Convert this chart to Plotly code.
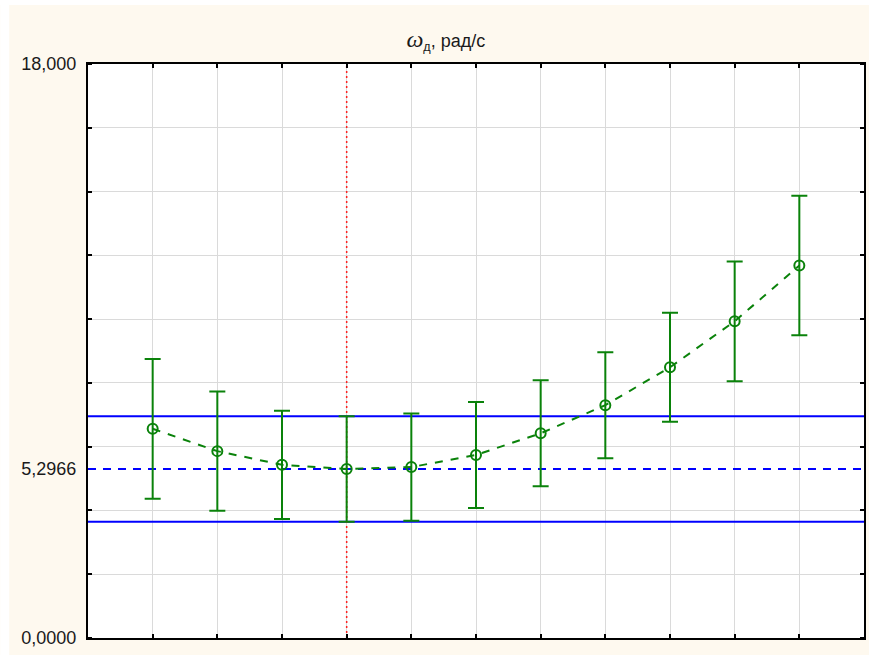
import plotly.graph_objects as go

# Levels of the factor (x positions) and the group means with their half-widths
levels = [1, 2, 3, 4, 5, 6, 7, 8, 9, 10, 11]
means = [6.56, 5.86, 5.43, 5.2966, 5.36, 5.74, 6.42, 7.30, 8.49, 9.93, 11.68]
half_ci = [2.19, 1.87, 1.70, 1.655, 1.68, 1.66, 1.66, 1.66, 1.71, 1.88, 2.19]

# Reference level (optimum) and its confidence band
ref_level = 4
ref_mean = 5.2966
ref_low = 3.6416
ref_high = 6.9516

# Axis labels
y_tick_vals = [0.0, 5.2966, 18.0]
y_tick_text = ["0,0000", "5,2966", "18,000"]
x_range = [0, 12]
y_range = [0, 18]

GREEN = "#0a820a"
BLUE = "#0000ff"
CREAM = "#fef9ef"
FONT = "Liberation Sans, Arial, sans-serif"

fig = go.Figure()

# confidence band of the reference level
for yv in (ref_high, ref_low):
    fig.add_trace(go.Scatter(x=x_range, y=[yv, yv], mode="lines",
                             line=dict(color=BLUE, width=2),
                             hoverinfo="skip", showlegend=False))
fig.add_trace(go.Scatter(x=x_range, y=[ref_mean, ref_mean], mode="lines",
                         line=dict(color=BLUE, width=2, dash="8px,7px"),
                         hoverinfo="skip", showlegend=False))

# vertical marker of the reference level
fig.add_trace(go.Scatter(x=[ref_level, ref_level], y=y_range, mode="lines",
                         line=dict(color="#ff2020", width=1.5, dash="2px,3px"),
                         hoverinfo="skip", showlegend=False))

# group means with error bars
fig.add_trace(go.Scatter(
    x=levels, y=means, mode="lines+markers",
    line=dict(color=GREEN, width=2, dash="8px,8px"),
    marker=dict(symbol="circle-open", size=10, color=GREEN,
                line=dict(color=GREEN, width=2)),
    error_y=dict(type="data", array=half_ci, visible=True,
                 color=GREEN, thickness=2, width=8),
    showlegend=False,
))

fig.update_layout(
    width=869, height=655,
    margin=dict(l=88, r=3, t=64, b=17),
    paper_bgcolor=CREAM,
    plot_bgcolor="white",
    font=dict(family=FONT, size=18, color="#1a1a1a"),
    title=dict(
        text="<span style='font-family:Liberation Serif, Times New Roman, serif;font-size:24px'><i>ω</i></span>"
             "<sub>д</sub>, рад/с",
        x=0.513, xanchor="center", y=0.938, yanchor="middle",
        font=dict(family=FONT, size=18, color="#1a1a1a"),
    ),
    xaxis=dict(
        range=x_range, tickvals=levels, showticklabels=False,
        ticks="inside", ticklen=4, tickwidth=2, tickcolor="black",
        showgrid=True, gridcolor="#dadada", gridwidth=1,
        showline=True, linecolor="black", linewidth=2, mirror="ticks",
        zeroline=False, fixedrange=True,
    ),
    yaxis=dict(
        range=y_range, tickmode="array", tickvals=y_tick_vals, ticktext=y_tick_text,
        ticks="", showgrid=False, ticklabelstandoff=6,
        minor=dict(tickmode="linear", tick0=0, dtick=2, ticks="inside", ticklen=4,
                   tickwidth=2, tickcolor="black", showgrid=True,
                   gridcolor="#dadada", gridwidth=1),
        showline=True, linecolor="black", linewidth=2, mirror="ticks",
        zeroline=False, fixedrange=True,
    ),
    shapes=[
        # thin white frame strips at the left and top edges of the page
        dict(type="rect", xref="paper", yref="paper", layer="above",
             x0=-88 / 778, x1=-79 / 778, y0=-0.05, y1=1.2,
             fillcolor="white", line=dict(width=0)),
        dict(type="rect", xref="paper", yref="paper", layer="above",
             x0=-0.2, x1=1.1, y0=1 + 59 / 574, y1=1 + 70 / 574,
             fillcolor="white", line=dict(width=0)),
    ],
)

fig.write_html("out.html")
